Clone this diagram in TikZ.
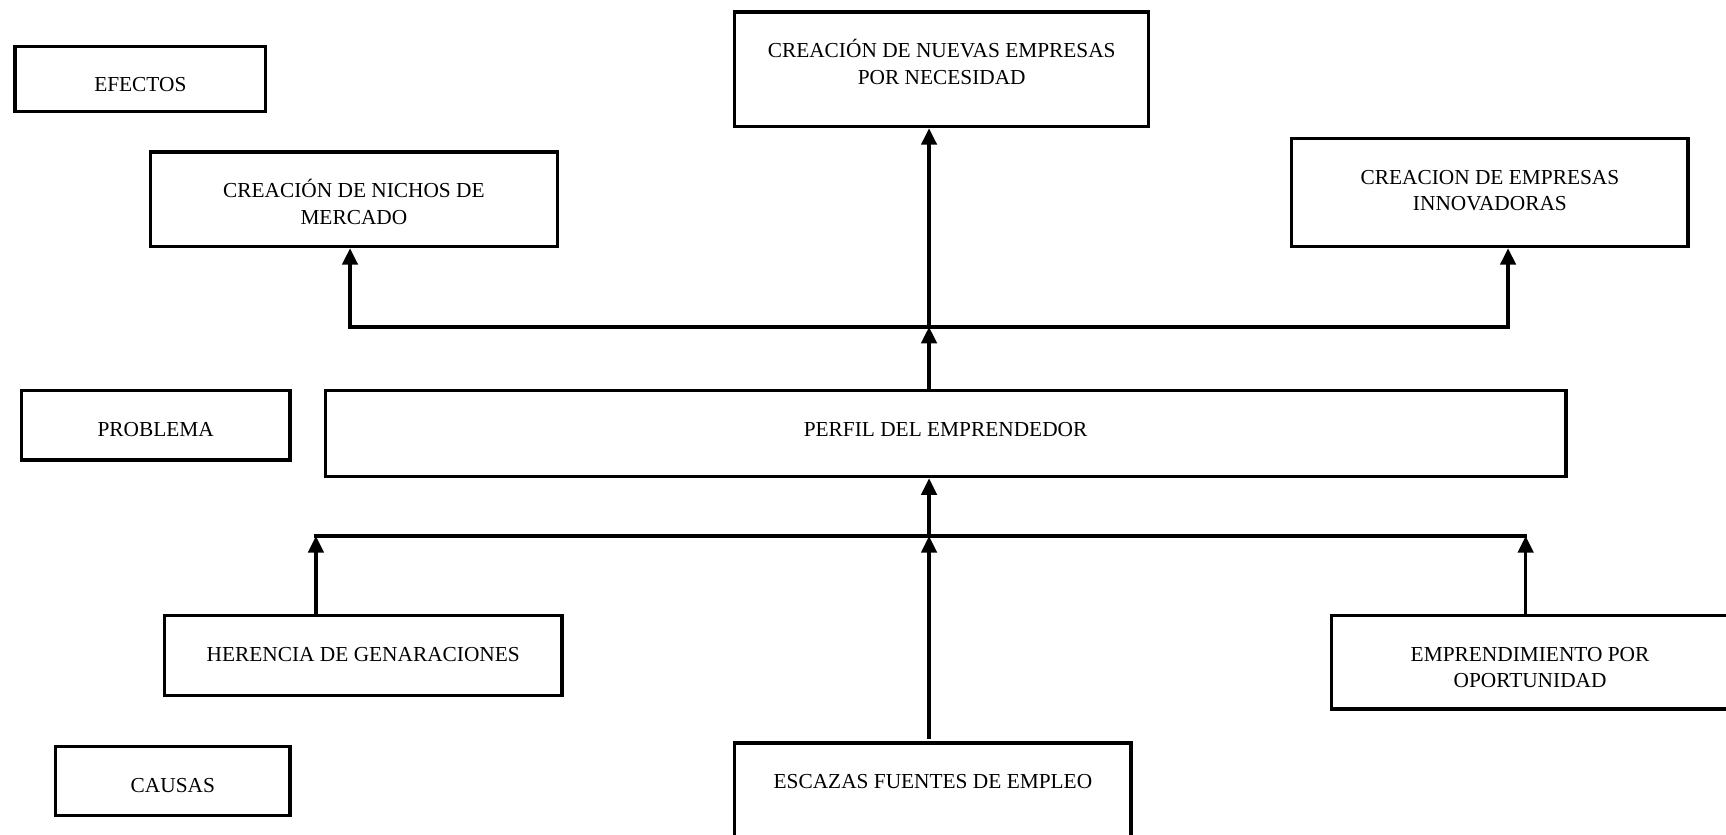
\documentclass[tikz,border=0pt]{standalone}
\usepackage{fontspec}
\setmainfont{Liberation Serif}
\usetikzlibrary{arrows.meta}
\newcommand{\twol}[2]{\begin{tabular}[t]{@{}c@{}}#1\\#2\end{tabular}}
\begin{document}
\begin{tikzpicture}[x=0.5pt,y=-0.5pt,
  box/.style={draw, line width=1.5pt, anchor=north, inner xsep=0pt, inner ysep=0pt,
    text height=20.75pt, font=\fontsize{9.7}{12}\selectfont},
  arr/.style={line width=1.5pt, line cap=rect, -{Triangle[width=7pt,length=7.5pt]}},
  conn/.style={line width=1.5pt, line cap=rect}]
\useasboundingbox (0,0) rectangle (1568,758.5);
\clip (0,0) rectangle (1568,758.5);
% effects
\node[box, minimum width=114pt, text depth=8.95pt] (efe) at (127.5,40.5) {EFECTOS};
\node[box, minimum width=185pt, text depth=22.25pt] (nichos) at (321.5,136.5) {\twol{CREACIÓN DE NICHOS DE}{MERCADO}};
\node[box, minimum width=188pt, text depth=31.25pt] (nec) at (855.5,9.5) {\twol{CREACIÓN DE NUEVAS EMPRESAS}{POR NECESIDAD}};
\node[box, minimum width=180pt, text depth=28.25pt] (innov) at (1353.5,124.5) {\twol{CREACION DE EMPRESAS}{INNOVADORAS}};
% problem
\node[box, minimum width=122pt, text depth=10.75pt] (prob) at (141.5,353.5) {PROBLEMA};
\node[box, minimum width=563.5pt, text depth=18.25pt] (perfil) at (859,353.5) {PERFIL DEL EMPRENDEDOR};
% causes
\node[box, minimum width=180.5pt, text depth=15.75pt] (her) at (330,557.5) {HERENCIA DE GENARACIONES};
\node[box, minimum width=180.5pt, text depth=21.75pt] (oport) at (1390,557.5) {\twol{EMPRENDIMIENTO POR}{OPORTUNIDAD}};
\node[box, minimum width=106.5pt, text depth=10.75pt] (causas) at (157,676.5) {CAUSAS};
\node[box, minimum width=180pt, text depth=60pt] (esc) at (847.5,673.5) {ESCAZAS FUENTES DE EMPLEO};
% junction coordinates
\coordinate (tL) at (318,297);
\coordinate (tC) at (844,297);
\coordinate (tR) at (1370,297);
\coordinate (bL) at (287,487);
\coordinate (bC) at (844,487);
\coordinate (bR) at (1386,487);
% upper distribution
\draw[conn] (tL) -- (tR);
\draw[arr] (tL) -- (tL |- nichos.south);
\draw[arr] (tC) -- (tC |- nec.south);
\draw[arr] (tR) -- (tR |- innov.south);
\draw[arr] (tC |- perfil.north) -- (tC);
% lower collection
\draw[conn] (bL) -- (bR);
\draw[arr] (bC) -- (bC |- perfil.south);
\draw[arr] (bL |- her.north) -- (bL);
\draw[arr] (bR |- oport.north) -- (bR);
\draw[arr] ([yshift=2pt]bC |- esc.north) -- (bC);
\end{tikzpicture}
\end{document}
